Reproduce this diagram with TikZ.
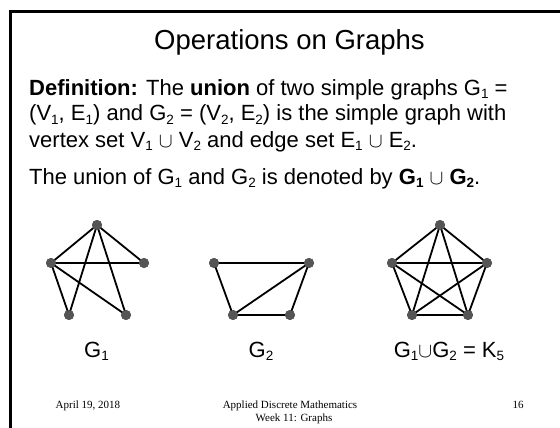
\documentclass[tikz,border=0pt]{standalone}
\usepackage{fontspec}
\setmainfont{Liberation Sans}
\newfontfamily\footfont{Liberation Serif}
\newcommand\sbs[1]{\raisebox{-0.15em}{\fontsize{13.5}{14}\selectfont #1}}
\begin{document}
\begin{tikzpicture}[x=1pt,y=-1pt,
  vtx/.style={circle,fill=vgray,inner sep=0pt,minimum size=10pt},
  edge/.style={line width=1.8pt,black},
  body/.style={anchor=base west,inner sep=0pt,font=\fontsize{22}{26}\selectfont},
  glabel/.style={anchor=base,inner sep=0pt,font=\fontsize{22}{26}\selectfont},
  foot/.style={inner sep=0pt,font=\footfont\fontsize{11}{12}\selectfont}]
\definecolor{vgray}{HTML}{555555}
\useasboundingbox (0,0) rectangle (560,428);
\draw[line width=3pt] (10.5,430) -- (10.5,11.5) -- (562,11.5);
\node[anchor=base,inner sep=0pt,font=\fontsize{27.5}{33}\selectfont] (title) at (289.5,50) {Operations on Graphs};
\node[body] (l1) at (29,95.5) {\textbf{Definition:} The \textbf{union} of two simple graphs G\sbs{1} =};
\node[body] (l2) at (29,121) {(V\sbs{1}, E\sbs{1}) and G\sbs{2} = (V\sbs{2}, E\sbs{2}) is the simple graph with};
\node[body] (l3) at (29,147) {vertex set V\sbs{1} $\cup$ V\sbs{2} and edge set E\sbs{1} $\cup$ E\sbs{2}.};
\node[body] (l4) at (29,184) {The union of G\sbs{1} and G\sbs{2} is denoted by \textbf{G\sbs{1} $\cup$ G\sbs{2}}.};
% G1
\node[vtx] (at) at (97,225) {};
\node[vtx] (al) at (51,263) {};
\node[vtx] (ar) at (144,263) {};
\node[vtx] (abl) at (69,315) {};
\node[vtx] (abr) at (126,315) {};
\draw[edge] (at.center) -- (al.center) (at.center) -- (ar.center) (at.center) -- (abl.center) (at.center) -- (abr.center)
  (al.center) -- (ar.center) (al.center) -- (abl.center) (al.center) -- (abr.center);
\foreach \v in {at,al,ar,abl,abr} \fill[vgray] (\v) circle (5pt);
% G2
\node[vtx] (bl) at (214,263) {};
\node[vtx] (br) at (309,263) {};
\node[vtx] (bbl) at (233,315) {};
\node[vtx] (bbr) at (290,315) {};
\draw[edge] (bl.center) -- (br.center) (bl.center) -- (bbl.center) (bbl.center) -- (bbr.center)
  (bbr.center) -- (br.center) (bbl.center) -- (br.center);
\foreach \v in {bl,br,bbl,bbr} \fill[vgray] (\v) circle (5pt);
% K5
\node[vtx] (ct) at (440,225) {};
\node[vtx] (cl) at (392,263) {};
\node[vtx] (cr) at (487,263) {};
\node[vtx] (cbl) at (412,315) {};
\node[vtx] (cbr) at (468,315) {};
\foreach \a/\b in {ct/cl,ct/cr,ct/cbl,ct/cbr,cl/cr,cl/cbl,cl/cbr,cr/cbl,cr/cbr,cbl/cbr}
  \draw[edge] (\a.center) -- (\b.center);
\foreach \v in {ct,cl,cr,cbl,cbr} \fill[vgray] (\v) circle (5pt);
% labels
\node[glabel] (g1) at (96.5,357) {G\sbs{1}};
\node[glabel] (g2) at (261,357) {G\sbs{2}};
\node[glabel] (g3) at (449,357) {G\sbs{1}$\cup$G\sbs{2} = K\sbs{5}};
% footer
\node[foot,anchor=base west] (date) at (55.5,408) {April 19, 2018};
\node[foot,anchor=base] (course) at (290,408) {Applied Discrete Mathematics};
\node[foot,anchor=base] (week) at (294,421) {Week 11: Graphs};
\node[foot,anchor=base] (page) at (518,408) {16};
\end{tikzpicture}
\end{document}
